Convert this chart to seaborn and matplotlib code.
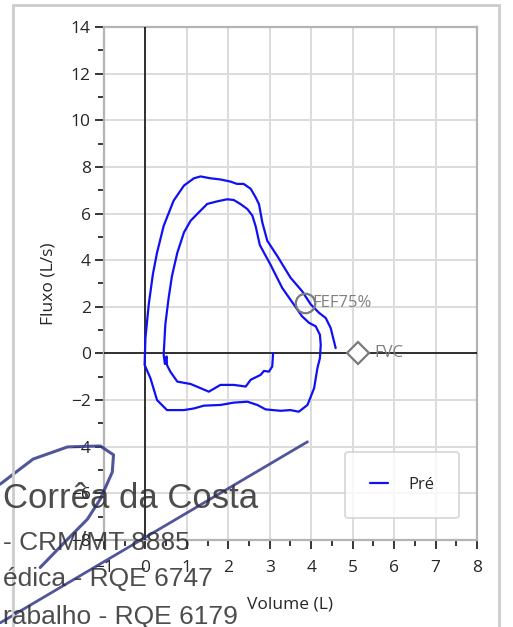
import numpy as np
import pandas as pd
import seaborn as sns
import matplotlib.pyplot as plt
from matplotlib.patches import Rectangle

# curva fluxo-volume (uma unica trajetoria)
volume = [3.08, 3.06, 2.98, 2.86, 2.78, 2.54, 2.42, 2.13, 1.81, 1.53, 1.33, 1.09, 0.77, 0.60, 0.52, 0.51, 0.47, 0.44,
          0.48, 0.56, 0.64, 0.77, 0.93, 1.09, 1.25, 1.49, 1.73, 1.97, 2.13, 2.29, 2.46, 2.58, 2.66, 2.76, 2.86, 3.02,
          3.30, 3.58, 3.78, 3.95, 4.11, 4.21, 4.23, 4.21, 4.15, 4.07, 3.91, 3.70, 3.50, 3.26, 2.90, 2.70, 2.46, 2.13,
          1.81, 1.41, 1.17, 0.93, 0.52, 0.28, 0.12, -0.02, 0.00, 0.08, 0.18, 0.28, 0.44, 0.68, 0.93, 1.17, 1.33,
          1.57, 1.81, 2.05, 2.21, 2.37, 2.54, 2.66, 2.74, 2.82, 2.94, 3.18, 3.50, 3.78, 3.99, 4.19, 4.35, 4.47, 4.59]
fluxo = [0.01, -0.56, -0.78, -0.75, -0.92, -1.13, -1.42, -1.35, -1.35, -1.64, -1.49, -1.31, -1.21, -0.78, -0.50, -0.13, -0.45, -0.06,
         1.24, 2.38, 3.32, 4.32, 5.19, 5.69, 5.98, 6.41, 6.52, 6.61, 6.58, 6.41, 6.19, 5.91, 5.45, 4.65, 4.32, 3.80,
         2.81, 2.10, 1.59, 1.31, 1.16, 0.80, 0.37, -0.20, -0.63, -1.49, -2.21, -2.50, -2.43, -2.46, -2.40, -2.21, -2.07, -2.11,
         -2.21, -2.24, -2.36, -2.43, -2.43, -2.00, -1.06, -0.49, 0.66, 2.10, 3.40, 4.32, 5.47, 6.55, 7.20, 7.51, 7.59,
         7.51, 7.46, 7.37, 7.27, 7.27, 7.06, 6.69, 6.40, 5.62, 4.83, 4.18, 3.25, 2.67, 2.10, 1.74, 1.52, 1.09, 0.23]

fef75 = (3.84, 2.17)
fvc = (5.13, 0.0)

x_ticks = [-1, 0, 1, 2, 3, 4, 5, 6, 7, 8]
y_ticks = [-8, -6, -4, -2, 0, 2, 4, 6, 8, 10, 12, 14]

# assinatura digitalizada sobreposta
assin_traco_x = [-3.5, 3.91]
assin_traco_y = [-11.55, -3.79]
assin_laco_x = [-3.50, -2.71, -1.88, -1.09, -0.77, -0.80, -1.09, -1.40, -1.88, -2.54]
assin_laco_y = [-5.60, -4.53, -4.01, -3.97, -4.35, -5.09, -6.25, -7.11, -7.97, -9.18]
assin_textos = ["Corrêa da Costa", "- CRM/MT 8885", "édica - RQE 6747", "rabalho - RQE 6179"]

df = pd.DataFrame({"Volume (L)": volume, "Fluxo (L/s)": fluxo})

sns.set_style("white")
plt.rcParams['font.family'] = ['Open Sans', 'DejaVu Sans']

fig = plt.figure(figsize=(5.13, 6.27), dpi=100)
ax = fig.add_axes([0.2027, 0.1388, 0.7271, 0.8182])

fig.patches.append(Rectangle((0.0253, -0.1), 0.9474, 1.092, transform=fig.transFigure,
                             fill=False, edgecolor="#cccccc", lw=2))

sns.lineplot(data=df, x="Volume (L)", y="Fluxo (L/s)", sort=False, estimator=None,
             color="#1010f5", lw=1.6, label="Pré", ax=ax, zorder=4)

ax.axhline(0, color="black", lw=1.1, zorder=3)
ax.axvline(0, color="black", lw=1.1, zorder=3)

ax.plot(*fef75, marker="o", ms=14, mfc="none", mec="#7a7a7a", mew=1.6, zorder=5)
ax.text(fef75[0] + 0.2, fef75[1], "FEF75%", color="#808080", fontsize=12, va="center", zorder=5)
ax.plot(*fvc, marker="D", ms=11, mfc="white", mec="#7a7a7a", mew=1.6, zorder=5)
ax.text(fvc[0] + 0.4, fvc[1], "FVC", color="#808080", fontsize=12, va="center", zorder=5)

ax.set_xlim(-1, 8)
ax.set_ylim(-8, 14)
ax.set_xticks(x_ticks)
ax.set_yticks(y_ticks)
ax.set_xticks(np.arange(-0.5, 8, 1), minor=True)
ax.set_yticks(np.arange(-7, 14, 2), minor=True)
ax.grid(True, which="major", color="#dcdcdc", lw=1.4)
ax.tick_params(which="major", direction="out", length=6.5, width=1.1, color="black",
               labelsize=12.5, pad=3, bottom=True, left=True)
ax.tick_params(axis="x", which="major", pad=8)
ax.tick_params(which="minor", direction="out", length=4.3, width=1.1, color="black",
               bottom=True, left=True)
for s in ax.spines.values():
    s.set_color("#b4b4b4")
    s.set_linewidth(1.6)

ax.set_xlabel("Volume (L)", fontsize=12.5, labelpad=15)
ax.set_ylabel("Fluxo (L/s)", fontsize=12.5, labelpad=10)

leg = ax.legend(loc="center", bbox_to_anchor=(0.799, 0.107), frameon=True, fontsize=12,
                handlelength=1.1, handletextpad=1.2, borderpad=1.5, fancybox=True)
leg.get_frame().set_edgecolor("#d0d0d0")
leg.get_frame().set_linewidth(1.3)

# assinatura
ax.plot(assin_traco_x, assin_traco_y, color="#33388a", lw=2, alpha=0.85, clip_on=False, zorder=6)
ax.plot(assin_laco_x, assin_laco_y, color="#33388a", lw=2.2, alpha=0.85, clip_on=False, zorder=6)
sig_y = [0.205, 0.134, 0.076, 0.016]
sig_fs = [25, 19, 19, 19]
for t, yy, fs in zip(assin_textos, sig_y, sig_fs):
    fig.text(0.005, yy, t, fontsize=fs, color="#2e2e2e", alpha=0.85, va="center", ha="left",
             family=["Liberation Sans", "DejaVu Sans"], zorder=7)

plt.savefig("out.png", dpi=100)
